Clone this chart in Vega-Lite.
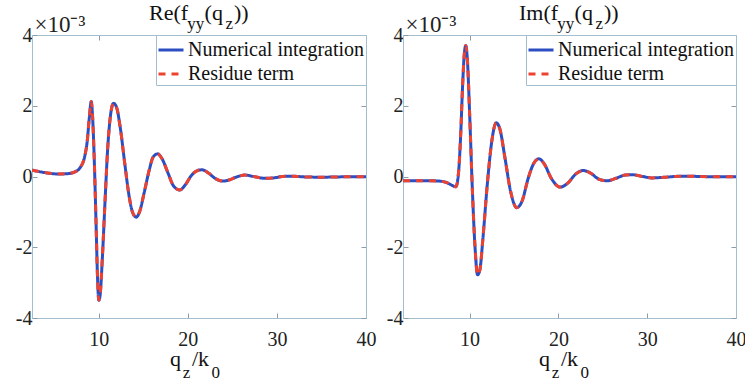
{
  "$schema": "https://vega.github.io/schema/vega-lite/v6.json",
  "background": "white",
  "padding": {"left": 15, "top": 2, "right": 4, "bottom": 2},
  "datasets": {
    "re": [
      {"q":2.5,"v":0.18},{"q":3.5,"v":0.13},{"q":4.5,"v":0.09},{"q":5.5,"v":0.07},{"q":6.5,"v":0.08},{"q":7.3,"v":0.13},{"q":7.9,"v":0.25},{"q":8.4,"v":0.55},{"q":8.7,"v":1.0},{"q":8.95,"v":1.7},{"q":9.15,"v":2.12},{"q":9.3,"v":1.7},{"q":9.5,"v":0.4},{"q":9.7,"v":-1.4},{"q":9.85,"v":-2.8},{"q":10.0,"v":-3.5},{"q":10.15,"v":-3.35},{"q":10.4,"v":-2.3},{"q":10.7,"v":-0.7},{"q":11.0,"v":0.8},{"q":11.3,"v":1.7},{"q":11.65,"v":2.07},{"q":12.0,"v":1.95},{"q":12.4,"v":1.4},{"q":12.9,"v":0.4},{"q":13.4,"v":-0.55},{"q":13.8,"v":-1.02},{"q":14.2,"v":-1.15},{"q":14.6,"v":-0.98},{"q":15.1,"v":-0.45},{"q":15.7,"v":0.22},{"q":16.1,"v":0.55},{"q":16.6,"v":0.64},{"q":17.1,"v":0.5},{"q":17.8,"v":0.08},{"q":18.4,"v":-0.27},{"q":19.1,"v":-0.38},{"q":19.7,"v":-0.24},{"q":20.4,"v":0.03},{"q":21.1,"v":0.17},{"q":21.6,"v":0.19},{"q":22.3,"v":0.1},{"q":23.1,"v":-0.06},{"q":23.9,"v":-0.13},{"q":24.6,"v":-0.1},{"q":25.4,"v":-0.02},{"q":26.4,"v":0.04},{"q":27.4,"v":0.0},{"q":28.6,"v":-0.05},{"q":29.6,"v":-0.04},{"q":30.6,"v":0.0},{"q":31.6,"v":0.01},{"q":33,"v":-0.01},{"q":35,"v":-0.02},{"q":37.5,"v":-0.01},{"q":40,"v":-0.01}
    ],
    "im": [
      {"q":2.5,"v":-0.12},{"q":4,"v":-0.12},{"q":5.5,"v":-0.12},{"q":6.6,"v":-0.13},{"q":7.5,"v":-0.18},{"q":8.1,"v":-0.26},{"q":8.45,"v":-0.29},{"q":8.75,"v":0.1},{"q":9.0,"v":1.2},{"q":9.2,"v":2.5},{"q":9.4,"v":3.45},{"q":9.57,"v":3.7},{"q":9.75,"v":3.3},{"q":10.0,"v":1.8},{"q":10.3,"v":-0.3},{"q":10.6,"v":-1.95},{"q":10.9,"v":-2.78},{"q":11.15,"v":-2.65},{"q":11.5,"v":-1.75},{"q":12.0,"v":-0.2},{"q":12.5,"v":1.0},{"q":13.0,"v":1.52},{"q":13.4,"v":1.35},{"q":14.0,"v":0.5},{"q":14.6,"v":-0.4},{"q":15.3,"v":-0.88},{"q":15.9,"v":-0.7},{"q":16.6,"v":-0.05},{"q":17.2,"v":0.36},{"q":17.8,"v":0.5},{"q":18.4,"v":0.36},{"q":19.2,"v":-0.05},{"q":20.2,"v":-0.3},{"q":21.0,"v":-0.2},{"q":22.0,"v":0.08},{"q":22.8,"v":0.17},{"q":23.6,"v":0.1},{"q":24.6,"v":-0.08},{"q":25.5,"v":-0.12},{"q":26.5,"v":-0.05},{"q":27.5,"v":0.04},{"q":28.3,"v":0.05},{"q":29.5,"v":0.0},{"q":30.5,"v":-0.04},{"q":32,"v":-0.02},{"q":34,"v":0.01},{"q":36,"v":0.0},{"q":38,"v":-0.01},{"q":40,"v":-0.01}
    ]
  },
  "config": {
    "font": "Liberation Serif",
    "view": {"stroke": null},
    "axis": {
      "labelFont": "Liberation Serif", "labelFontSize": 20, "labelColor": "#222222",
      "domainColor": "#A3BFCE", "domainWidth": 1, "tickColor": "#8C9BA6", "tickSize": -5, "tickWidth": 1,
      "grid": false, "titleFont": "Liberation Serif", "titleFontWeight": "normal", "titleColor": "#222222"
    },
    "legend": {
      "orient": "top-right", "offset": 0, "padding": 1, "strokeColor": "#A3BFCE", "fillColor": "white",
      "labelFont": "Liberation Serif", "labelFontSize": 20, "labelColor": "#111111", "labelLimit": 400,
      "symbolType": "stroke", "symbolSize": 625, "symbolStrokeWidth": 3, "labelOffset": 3, "rowPadding": -3, "cornerRadius": 0
    },
    "title": {"font": "Liberation Serif", "fontWeight": "normal", "color": "#111111", "subtitleFont": "Liberation Serif", "subtitleColor": "#111111", "subtitleFontWeight": "normal"}
  },
  "spacing": 10,
  "hconcat": [
    {
      "resolve": {"scale": {"color": "independent", "strokeDash": "independent"}, "legend": {"color": "independent", "strokeDash": "independent"}},
      "title": {"text": "q\u00a0\u00a0/k", "subtitle": "\u200b\u00a0\u00a0\u00a0z\u00a0\u00a0\u00a0\u00a0\u00a00", "orient": "bottom", "anchor": "start", "frame": "group", "dx": 138, "fontSize": 22, "subtitleFontSize": 17, "subtitlePadding": -6, "offset": 0},
      "vconcat": [
        {
          "width": 334, "height": 283,
          "data": {"name": "re"},
          "title": {"text": "Re(f\u00a0\u00a0\u00a0(q\u00a0\u00a0))", "subtitle": "\u200b\u00a0\u00a0\u00a0\u00a0\u00a0\u00a0\u00a0\u00a0\u00a0yy\u00a0\u00a0\u00a0\u00a0\u00a0z", "anchor": "start", "frame": "group", "dx": 117, "fontSize": 22, "subtitleFontSize": 17, "subtitlePadding": -9, "offset": -20},
          "layer": [
            {
              "mark": {"type": "line", "strokeWidth": 3, "interpolate": "monotone", "clip": true},
              "encoding": {
                "x": {"field": "q", "type": "quantitative", "scale": {"domain": [2.5, 40], "nice": false, "zero": false},
                  "axis": {"orient": "bottom", "values": [10, 20, 30, 40], "labelPadding": 16, "labelFlush": false, "labelOverlap": false, "title": null, "labelFont": "Liberation Serif"}},
                "y": {"field": "v", "type": "quantitative", "scale": {"domain": [-4, 4], "nice": false},
                  "axis": {"orient": "left", "values": [-4, -2, 0, 2, 4], "labelPadding": 5, "labelFont": "Liberation Serif", "labelExpr": "'' + datum.value", "title": "\u00d710\u207b\u00b3", "titleFont": "Liberation Serif", "titleAngle": 0, "titleAlign": "left", "titleBaseline": "alphabetic", "titleX": 2, "titleY": -4, "titleFontSize": 23}},
                "color": {"datum": "Numerical integration", "type": "nominal", "scale": {"domain": ["Numerical integration", "Residue term"], "range": ["#2D4EC1", "#EE4230"]}, "legend": {"title": null, "labelFont": "Liberation Serif"}},
                "strokeDash": {"datum": "Numerical integration", "type": "nominal", "scale": {"domain": ["Numerical integration", "Residue term"], "range": [[1, 0], [7, 6]]}, "legend": {"title": null, "labelFont": "Liberation Serif"}}
              }
            },
            {
              "mark": {"type": "line", "strokeWidth": 3, "interpolate": "monotone", "clip": true},
              "encoding": {
                "x": {"field": "q", "type": "quantitative", "axis": {"orient": "top", "values": [10, 20, 30, 40], "labels": false, "title": null}},
                "y": {"field": "v", "type": "quantitative", "axis": {"orient": "right", "values": [-4, -2, 0, 2, 4], "labels": false, "title": null}},
                "color": {"datum": "Residue term", "type": "nominal"},
                "strokeDash": {"datum": "Residue term", "type": "nominal"}
              }
            }
          ]
        }
      ]
    },
    {
      "resolve": {"scale": {"color": "independent", "strokeDash": "independent"}, "legend": {"color": "independent", "strokeDash": "independent"}},
      "title": {"text": "q\u00a0\u00a0/k", "subtitle": "\u200b\u00a0\u00a0\u00a0z\u00a0\u00a0\u00a0\u00a0\u00a00", "orient": "bottom", "anchor": "start", "frame": "group", "dx": 136, "fontSize": 22, "subtitleFontSize": 17, "subtitlePadding": -6, "offset": 0},
      "vconcat": [
        {
          "width": 333, "height": 283,
          "data": {"name": "im"},
          "title": {"text": "Im(f\u00a0\u00a0\u00a0(q\u00a0\u00a0))", "subtitle": "\u200b\u00a0\u00a0\u00a0\u00a0\u00a0\u00a0\u00a0\u00a0\u00a0yy\u00a0\u00a0\u00a0\u00a0\u00a0z", "anchor": "start", "frame": "group", "dx": 116, "fontSize": 22, "subtitleFontSize": 17, "subtitlePadding": -9, "offset": -20},
          "layer": [
            {
              "mark": {"type": "line", "strokeWidth": 3, "interpolate": "monotone", "clip": true},
              "encoding": {
                "x": {"field": "q", "type": "quantitative", "scale": {"domain": [2.5, 40], "nice": false, "zero": false},
                  "axis": {"orient": "bottom", "values": [10, 20, 30, 40], "labelPadding": 16, "labelFlush": false, "labelOverlap": false, "title": null, "labelFont": "Liberation Serif"}},
                "y": {"field": "v", "type": "quantitative", "scale": {"domain": [-4, 4], "nice": false},
                  "axis": {"orient": "left", "values": [-4, -2, 0, 2, 4], "labelPadding": 5, "labelFont": "Liberation Serif", "labelExpr": "'' + datum.value", "title": "\u00d710\u207b\u00b3", "titleFont": "Liberation Serif", "titleAngle": 0, "titleAlign": "left", "titleBaseline": "alphabetic", "titleX": 2, "titleY": -4, "titleFontSize": 23}},
                "color": {"datum": "Numerical integration", "type": "nominal", "scale": {"domain": ["Numerical integration", "Residue term"], "range": ["#2D4EC1", "#EE4230"]}, "legend": {"title": null, "labelFont": "Liberation Serif"}},
                "strokeDash": {"datum": "Numerical integration", "type": "nominal", "scale": {"domain": ["Numerical integration", "Residue term"], "range": [[1, 0], [7, 6]]}, "legend": {"title": null, "labelFont": "Liberation Serif"}}
              }
            },
            {
              "mark": {"type": "line", "strokeWidth": 3, "interpolate": "monotone", "clip": true},
              "encoding": {
                "x": {"field": "q", "type": "quantitative", "axis": {"orient": "top", "values": [10, 20, 30, 40], "labels": false, "title": null}},
                "y": {"field": "v", "type": "quantitative", "axis": {"orient": "right", "values": [-4, -2, 0, 2, 4], "labels": false, "title": null}},
                "color": {"datum": "Residue term", "type": "nominal"},
                "strokeDash": {"datum": "Residue term", "type": "nominal"}
              }
            }
          ]
        }
      ]
    }
  ]
}
